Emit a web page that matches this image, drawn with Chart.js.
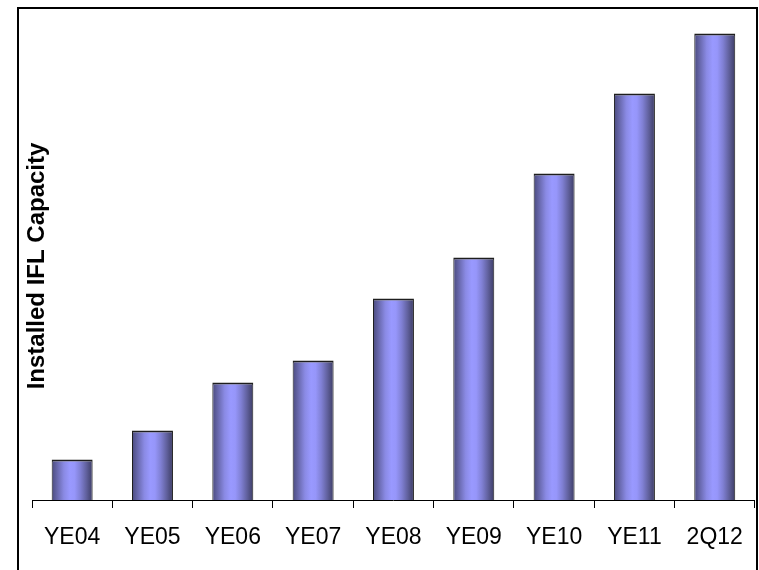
<!DOCTYPE html>
<html>
<head>
<meta charset="utf-8">
<script src="https://cdn.jsdelivr.net/npm/chart.js@4.4.0/dist/chart.umd.min.js"></script>
<style>
  html, body { margin: 0; padding: 0; background: #ffffff; }
  #wrap { width: 759px; height: 570px; position: relative; }
</style>
</head>
<body>
<div id="wrap"><canvas id="c" width="759" height="570"></canvas></div>
<script>
// Installed IFL capacity by period (relative units)
const periods = ['YE04', 'YE05', 'YE06', 'YE07', 'YE08', 'YE09', 'YE10', 'YE11', '2Q12'];
const capacity = [40.5, 69.5, 117.5, 139.5, 201.5, 242.5, 326.5, 406.5, 466.5];
const axisTitle = 'Installed IFL Capacity';
const yMax = 480;

const FONT = '"Liberation Sans", Arial, Helvetica, sans-serif';
const BAR_FRACTION = 0.51;

// Horizontal shading across each bar: dark edges, light centre
function barGradient(ctx) {
  const chart = ctx.chart;
  const area = chart.chartArea;
  const xs = chart.scales.x;
  if (!area || !xs) return '#9999ff';
  const cx = xs.getPixelForValue(ctx.dataIndex);
  const half = (area.right - area.left) / periods.length * BAR_FRACTION / 2;
  const g = chart.ctx.createLinearGradient(cx - half, 0, cx + half, 0);
  g.addColorStop(0.00, '#4a4a7e');
  g.addColorStop(0.12, '#6464a6');
  g.addColorStop(0.30, '#8a8ae4');
  g.addColorStop(0.45, '#9999ff');
  g.addColorStop(0.56, '#9696fa');
  g.addColorStop(0.70, '#8080d4');
  g.addColorStop(0.85, '#60609c');
  g.addColorStop(1.00, '#3c3c64');
  return g;
}

// Outer frame (open at the bottom) and the rotated value-axis title
const framePlugin = {
  id: 'frame',
  afterDraw(chart) {
    const c = chart.ctx;
    c.save();
    c.strokeStyle = '#000000';
    c.lineWidth = 2;
    c.beginPath();
    c.moveTo(18, 572);
    c.lineTo(18, 8);
    c.lineTo(757, 8);
    c.lineTo(757, 572);
    c.stroke();

    c.translate(37, 266);
    c.rotate(-Math.PI / 2);
    c.fillStyle = '#000000';
    c.font = 'bold 24px ' + FONT;
    c.textAlign = 'center';
    c.textBaseline = 'middle';
    c.fillText(axisTitle, 0, 0);
    c.restore();
  }
};

new Chart(document.getElementById('c'), {
  type: 'bar',
  data: {
    labels: periods,
    datasets: [{
      data: capacity,
      backgroundColor: barGradient,
      borderColor: '#1e1e1e',
      borderWidth: { top: 2, left: 1, right: 1, bottom: 0 },
      borderSkipped: 'start',
      categoryPercentage: 1.0,
      barPercentage: BAR_FRACTION
    }]
  },
  options: {
    responsive: false,
    animation: false,
    devicePixelRatio: 1,
    layout: { padding: { top: 20, left: 32, right: 2, bottom: 0 } },
    plugins: {
      legend: { display: false },
      tooltip: { enabled: false },
      title: { display: false }
    },
    scales: {
      x: {
        offset: true,
        grid: {
          display: true,
          offset: true,
          drawOnChartArea: false,
          drawTicks: true,
          tickLength: 8,
          color: '#000000',
          lineWidth: 1
        },
        border: { display: true, color: '#000000', width: 1 },
        ticks: {
          color: '#000000',
          font: { family: FONT, size: 23 },
          padding: 16,
          maxRotation: 0,
          autoSkip: false
        },
        afterFit(scale) { scale.height = 70; }
      },
      y: {
        display: false,
        min: 0,
        max: yMax
      }
    }
  },
  plugins: [framePlugin]
});
</script>
</body>
</html>
